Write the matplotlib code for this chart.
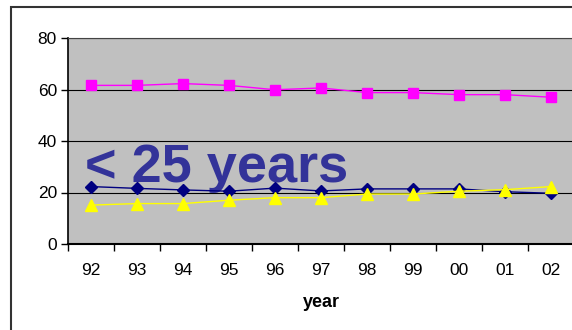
import numpy as np
import matplotlib
matplotlib.use("Agg")
import matplotlib.pyplot as plt
from matplotlib.patches import Rectangle

plt.rcParams["font.family"] = ["Liberation Sans", "DejaVu Sans"]

years = ["92", "93", "94", "95", "96", "97", "98", "99", "00", "01", "02"]
pink = [61.6, 61.6, 62.3, 61.6, 59.9, 60.6, 58.8, 58.8, 58.0, 58.0, 57.0]
navy = [22.3, 21.6, 21.0, 20.5, 21.7, 20.6, 21.4, 21.4, 21.4, 20.3, 19.7]
yellow = [15.1, 15.7, 15.7, 17.0, 18.0, 18.0, 19.4, 19.4, 20.5, 21.1, 22.3]

W, H = 572, 330
fig = plt.figure(figsize=(W / 100, H / 100), dpi=100)

# outer chart frame (runs off the right and bottom edge)
fig.patches.append(Rectangle((11 / W, -0.1), 1.2, 1 - 7 / H + 0.1, transform=fig.transFigure,
                             fill=False, edgecolor="#333333", linewidth=1.5))

ax = fig.add_axes([68 / W, (H - 244) / H, (574 - 68) / W, (244 - 38) / H])
ax.set_facecolor("#c0c0c0")

x = np.arange(len(years))
ax.plot(x, pink, color="#ff00ff", marker="s", markersize=7, linewidth=1, zorder=3)
ax.plot(x, navy, color="#000080", marker="D", markersize=6, linewidth=1, zorder=3)
ax.plot(x, yellow, color="#ffff00", marker="^", markersize=8, linewidth=1, zorder=3)

ax.set_xlim(-0.5, len(years) - 0.5)
ax.set_ylim(0, 80)
ax.set_yticks([0, 20, 40, 60, 80])
ax.yaxis.grid(True, color="black", linewidth=0.8)
ax.set_axisbelow(True)

ax.set_xticks(x)
ax.set_xticklabels(years)
ax.set_xticks(np.arange(len(years) + 1) - 0.5, minor=True)
ax.tick_params(axis="x", which="major", length=0, pad=14, labelsize=12.5)
ax.tick_params(axis="x", which="minor", length=5, direction="out", width=1)
ax.tick_params(axis="y", length=5, width=1, labelsize=12.5, pad=3)

ax.spines["left"].set_linewidth(1.2)
ax.spines["bottom"].set_linewidth(1.5)
ax.spines["top"].set_color("#444444")
ax.spines["right"].set_visible(False)

ax.set_xlabel("year", fontweight="bold", fontsize=13, labelpad=11)

ax.text(0.034, 0.30, "< 25 years", transform=ax.transAxes, fontsize=39,
        fontweight="bold", color="#333399", zorder=2)

fig.savefig("out.png", dpi=100)
